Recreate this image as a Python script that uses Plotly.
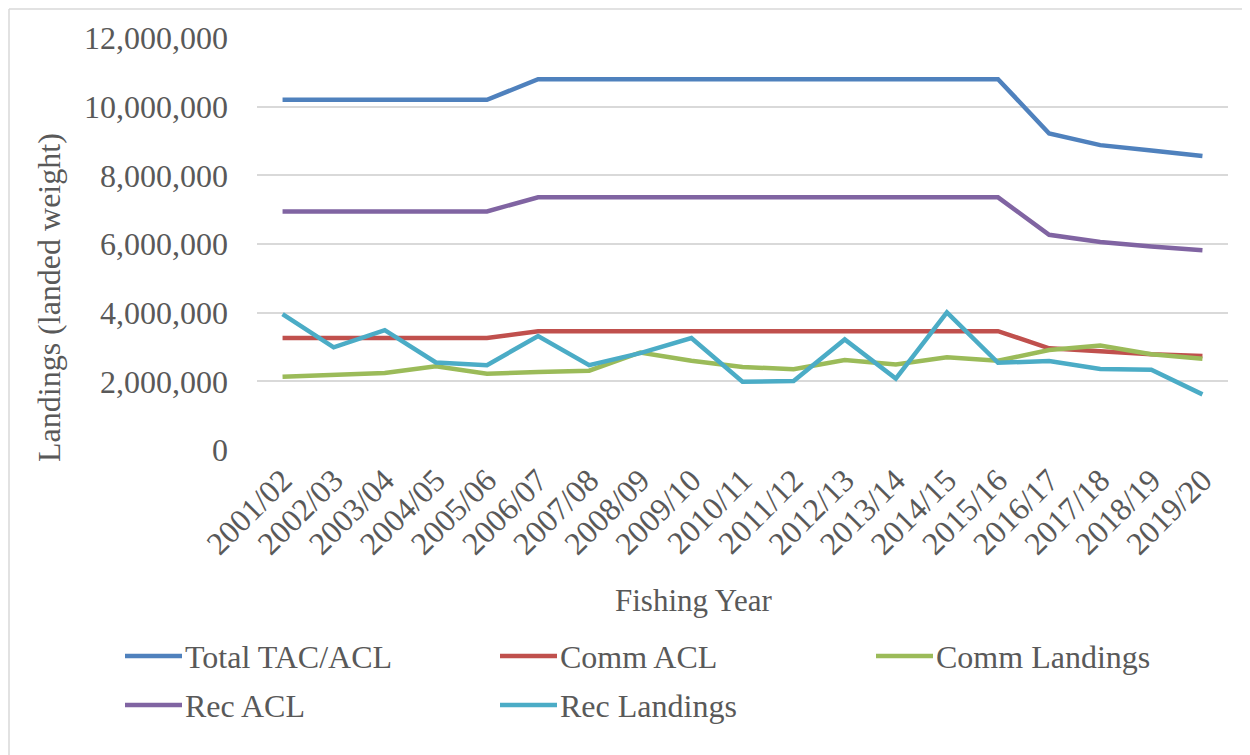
import plotly.graph_objects as go

years = ["2001/02", "2002/03", "2003/04", "2004/05", "2005/06", "2006/07", "2007/08",
         "2008/09", "2009/10", "2010/11", "2011/12", "2012/13", "2013/14", "2014/15",
         "2015/16", "2016/17", "2017/18", "2018/19", "2019/20"]

total_tac_acl = [10200000, 10200000, 10200000, 10200000, 10200000, 10800000, 10800000,
                 10800000, 10800000, 10800000, 10800000, 10800000, 10800000, 10800000,
                 10800000, 9220000, 8880000, 8720000, 8560000]
comm_acl = [3260000, 3260000, 3260000, 3260000, 3260000, 3460000, 3460000,
            3460000, 3460000, 3460000, 3460000, 3460000, 3460000, 3460000,
            3460000, 2960000, 2860000, 2790000, 2740000]
comm_landings = [2130000, 2170000, 2240000, 2440000, 2220000, 2270000, 2310000,
                 2840000, 2600000, 2420000, 2350000, 2620000, 2490000, 2700000,
                 2600000, 2910000, 3040000, 2790000, 2660000]
rec_acl = [6950000, 6950000, 6950000, 6950000, 6950000, 7360000, 7360000,
           7360000, 7360000, 7360000, 7360000, 7360000, 7360000, 7360000,
           7360000, 6270000, 6060000, 5930000, 5820000]
rec_landings = [3960000, 2990000, 3490000, 2550000, 2470000, 3320000, 2470000,
                2820000, 3260000, 1990000, 2010000, 3220000, 2080000, 4010000,
                2540000, 2590000, 2360000, 2340000, 1620000]

series_names = ["Total TAC/ACL", "Comm ACL", "Comm Landings", "Rec ACL", "Rec Landings"]
series_values = [total_tac_acl, comm_acl, comm_landings, rec_acl, rec_landings]
series_colors = ["#4F81BD", "#C0504D", "#9BBB59", "#8064A2", "#4BACC6"]

y_ticks = [0, 2000000, 4000000, 6000000, 8000000, 10000000, 12000000]

FONT = "Liberation Serif"
TXT = "#595959"
FS = 32
FS_TITLE = 31

# the page body adds an 8px margin; work in reference pixels and subtract it
OFF = 8
W, H = 1250 - OFF, 755 - OFF
PL, PR, PT, PB = 257 - OFF, 1228 - OFF, 38 - OFF, 450 - OFF


def px_x(p):
    return (p - OFF - PL) / (PR - PL)


def px_y(p):
    return (PB - (p - OFF)) / (PB - PT)


fig = go.Figure()
for name, vals, color in zip(series_names, series_values, series_colors):
    fig.add_trace(go.Scatter(x=years, y=vals, name=name, mode="lines",
                             line=dict(color=color, width=4.5)))

shapes = [
    # outer chart border (left and top edges visible)
    dict(type="line", xref="paper", yref="paper", x0=px_x(9), x1=px_x(9),
         y0=px_y(9), y1=px_y(770), line=dict(color="#D9D9D9", width=1.5)),
    dict(type="line", xref="paper", yref="paper", x0=px_x(9), x1=px_x(1270),
         y0=px_y(9), y1=px_y(9), line=dict(color="#D9D9D9", width=1.5)),
]
annotations = [
    dict(text="Landings (landed weight)", xref="paper", yref="paper",
         x=px_x(49), y=px_y(298), textangle=-90, showarrow=False,
         xanchor="center", yanchor="middle",
         font=dict(family=FONT, size=32, color=TXT)),
    dict(text="Fishing Year", xref="paper", yref="paper",
         x=px_x(693), y=px_y(600), showarrow=False,
         xanchor="center", yanchor="middle",
         font=dict(family=FONT, size=FS_TITLE, color=TXT)),
]

# legend layout (3 columns, 2 rows)
leg_cols = [125, 500, 876]
leg_rows = [656, 705]
for i, (name, color) in enumerate(zip(series_names, series_colors)):
    cx = leg_cols[i % 3]
    ry = leg_rows[i // 3]
    shapes.append(dict(type="line", xref="paper", yref="paper",
                       x0=px_x(cx), x1=px_x(cx + 57), y0=px_y(ry), y1=px_y(ry),
                       line=dict(color=color, width=4.5)))
    annotations.append(dict(text=name, xref="paper", yref="paper",
                            x=px_x(cx + 58), y=px_y(ry + 1), showarrow=False,
                            xanchor="left", yanchor="middle",
                            font=dict(family=FONT, size=FS, color=TXT)))

fig.update_layout(
    width=W, height=H,
    margin=dict(l=PL, r=W - PR, t=PT, b=H - PB),
    paper_bgcolor="white", plot_bgcolor="white",
    font=dict(family=FONT, size=FS, color=TXT),
    showlegend=False,
    shapes=shapes,
    annotations=annotations,
)
fig.update_xaxes(type="category", range=[-0.5, 18.5], tickangle=-45,
                 showgrid=False, showline=False, ticks="", automargin=False,
                 ticklabelstandoff=4,
                 tickfont=dict(family=FONT, size=FS, color=TXT))
fig.update_yaxes(range=[0, 12000000], tickvals=y_ticks,
                 tickformat=",", showgrid=True, gridcolor="#D9D9D9", gridwidth=1.5,
                 zeroline=False, showline=False, ticks="", ticklabelstandoff=28,
                 automargin=False,
                 tickfont=dict(family=FONT, size=FS, color=TXT))

fig.write_html("out.html")
